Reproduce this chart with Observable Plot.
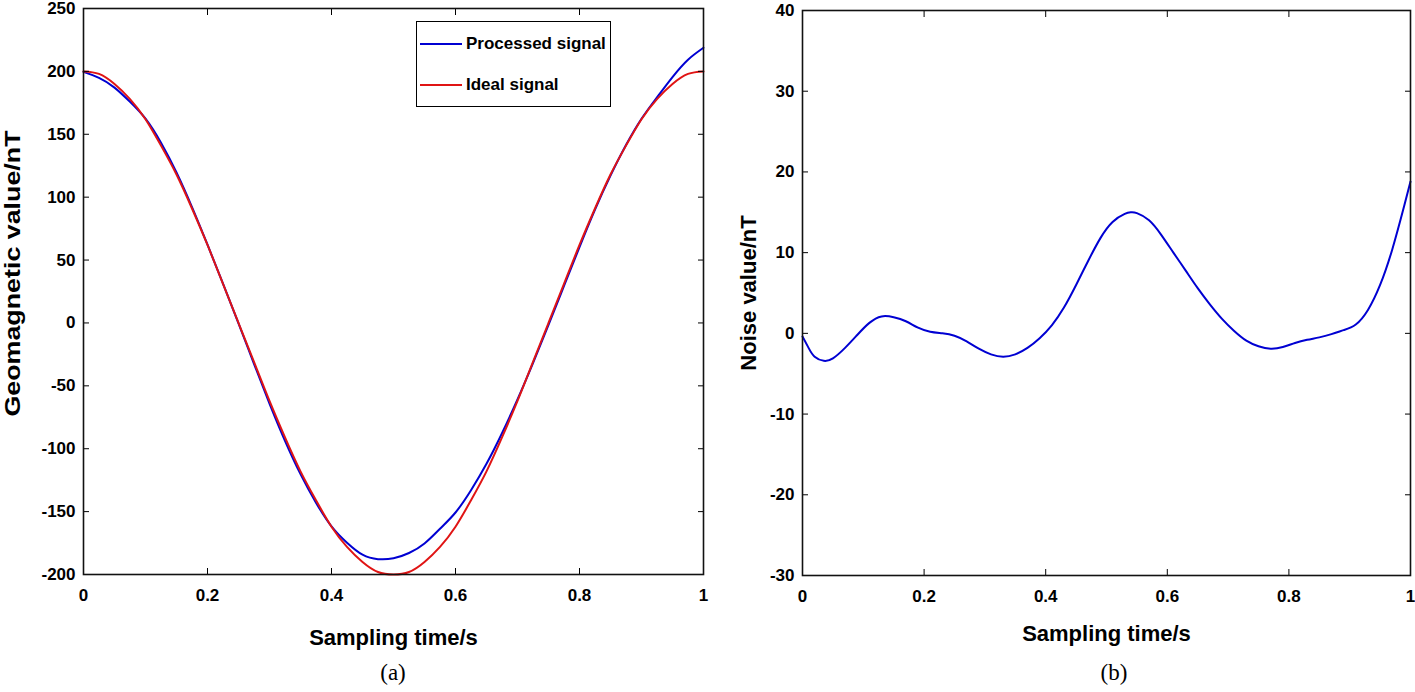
<!DOCTYPE html>
<html>
<head>
<meta charset="utf-8">
<script src="https://cdn.jsdelivr.net/npm/d3@7"></script>
<script src="https://cdn.jsdelivr.net/npm/@observablehq/plot@0.6"></script>
<style>
  body { margin: 0; background: #fff; }
  #wrap { position: relative; width: 1415px; height: 692px; overflow: hidden; font-family: "Liberation Sans", Arial, sans-serif; }
  .panel { position: absolute; top: 0; }
  .panel svg text { font-weight: bold !important; fill: #000; }
  .cap { position: absolute; top: 660px; font-family: "Liberation Serif", "Times New Roman", serif; font-size: 23px; transform: translateX(-50%); color: #000; }
  .legend { position: absolute; left: 416px; top: 21px; width: 195px; height: 86px; border: 1.4px solid #000; background: #fff; box-sizing: border-box; }
  .legend .row { position: absolute; left: 3px; display: flex; align-items: center; font-weight: bold; font-size: 17px; color: #000; }
  .legend .sw { width: 42px; height: 2px; margin-right: 4px; }
</style>
</head>
<body>
<div id="wrap">
  <div id="left" class="panel" style="left:0px"></div>
  <div id="right" class="panel" style="left:720px"></div>
  <div class="legend" id="legend"></div>
  <div class="cap" style="left:393px">(a)</div>
  <div class="cap" style="left:1114px">(b)</div>
</div>
<script>
// ---- data ----
const time = [0, 0.025, 0.05, 0.075, 0.1, 0.125, 0.15, 0.175, 0.2, 0.225, 0.25, 0.275, 0.3, 0.325, 0.35, 0.375, 0.4, 0.425, 0.45, 0.475, 0.5, 0.525, 0.55, 0.575, 0.6, 0.625, 0.65, 0.675, 0.7, 0.725, 0.75, 0.775, 0.8, 0.825, 0.85, 0.875, 0.9, 0.925, 0.95, 0.975, 1];
const idealSignal = [200, 198, 190, 178, 162, 141, 118, 91, 62, 31, 0, -31, -62, -91, -118, -141, -162, -178, -190, -198, -200, -198, -190, -178, -162, -141, -118, -91, -62, -31, 0, 31, 62, 91, 118, 141, 162, 178, 190, 198, 200];
const processedSignal = [199.6, 194.8, 187.1, 175.8, 162.4, 143.3, 119.6, 92.1, 62.2, 31.3, -0.3, -32.5, -64.1, -93.7, -120.2, -142.9, -161.7, -174.7, -184.2, -187.8, -187.1, -182.9, -175.3, -163.6, -150.7, -133.0, -112.0, -87.7, -60.8, -31.9, -1.6, 29.4, 60.3, 90.1, 117.1, 141.4, 162.3, 179.4, 195.5, 209.3, 218.8];
const noiseTime = [0, 0.01, 0.02, 0.035, 0.05, 0.07, 0.09, 0.11, 0.13, 0.15, 0.17, 0.19, 0.21, 0.23, 0.25, 0.27, 0.29, 0.31, 0.33, 0.35, 0.37, 0.39, 0.41, 0.43, 0.45, 0.47, 0.49, 0.51, 0.53, 0.54, 0.55, 0.57, 0.59, 0.61, 0.63, 0.65, 0.67, 0.69, 0.71, 0.73, 0.75, 0.77, 0.79, 0.81, 0.83, 0.85, 0.87, 0.89, 0.91, 0.93, 0.95, 0.97, 0.99, 1];
const noiseValue = [-0.4, -1.8, -2.9, -3.4, -3.1, -1.8, -0.2, 1.3, 2.1, 2.0, 1.5, 0.7, 0.2, 0.0, -0.3, -1.0, -1.9, -2.6, -2.9, -2.6, -1.8, -0.6, 1.0, 3.2, 6.0, 9.0, 11.8, 13.8, 14.8, 15.0, 14.9, 14.0, 12.2, 10.0, 7.8, 5.6, 3.6, 1.8, 0.3, -0.9, -1.6, -1.9, -1.7, -1.2, -0.8, -0.5, -0.1, 0.4, 1.1, 2.9, 6.0, 10.4, 15.9, 18.8];

const xTicks = [0, 0.2, 0.4, 0.6, 0.8, 1];
const xTickLabels = ["0", "0.2", "0.4", "0.6", "0.8", "1"];
const yTicksA = [-200, -150, -100, -50, 0, 50, 100, 150, 200, 250];
const yTicksB = [-30, -20, -10, 0, 10, 20, 30, 40];
const seriesNames = ["Processed signal", "Ideal signal"];
const seriesColors = ["#0000d2", "#e01414"];
const xLabel = "Sampling time/s";
const yLabelA = "Geomagnetic value/nT";
const yLabelB = "Noise value/nT";

const font = '"Liberation Sans", Arial, sans-serif';
const fmtX = d => xTickLabels[xTicks.indexOf(d)] ?? String(d);
const fmtY = d => String(d);

const seriesA = [
  ...time.map((t, i) => ({t, v: processedSignal[i], s: seriesNames[0]})),
  ...time.map((t, i) => ({t, v: idealSignal[i], s: seriesNames[1]}))
];
const noise = noiseTime.map((t, i) => ({t, v: noiseValue[i]}));

function frameMarks(yTicks, yLabel, xLabelDy, yLabelDx, yLabelDy) {
  return [
    Plot.axisX({anchor: "bottom", ticks: xTicks, tickFormat: fmtX, tickSize: -6, tickPadding: 20, label: null, fontSize: 17, fontWeight: "bold"}),
    Plot.axisX({anchor: "top", ticks: xTicks, tickFormat: () => "", tickSize: -6, label: null}),
    Plot.axisY({anchor: "left", ticks: yTicks, tickFormat: fmtY, tickSize: -6, tickPadding: 14, label: null, fontSize: 17, fontWeight: "bold"}),
    Plot.axisY({anchor: "right", ticks: yTicks, tickFormat: () => "", tickSize: -6, label: null}),
    Plot.frame({stroke: "#111", strokeWidth: 1.6}),
    Plot.text([xLabel], {text: d => d, frameAnchor: "bottom", dy: xLabelDy, fontSize: 22, fontWeight: "bold", fill: "#000"}),
    Plot.text([yLabel], {text: d => d, frameAnchor: "left", textAnchor: "middle", dx: yLabelDx, dy: yLabelDy, rotate: -90, fontSize: 22, fontWeight: "bold", fill: "#000"})
  ];
}

const left = Plot.plot({
  width: 720, height: 655,
  marginLeft: 83, marginRight: 17, marginTop: 8, marginBottom: 81,
  style: {fontFamily: font, fontWeight: "bold", color: "#000", background: "transparent", overflow: "visible"},
  x: {domain: [0, 1]},
  y: {domain: [-200, 250]},
  color: {domain: seriesNames, range: seriesColors},
  marks: [
    Plot.line(seriesA.filter(d => d.s === seriesNames[0]), {x: "t", y: "v", stroke: "s", strokeWidth: 2, curve: "natural"}),
    Plot.line(seriesA.filter(d => d.s === seriesNames[1]), {x: "t", y: "v", stroke: "s", strokeWidth: 2, curve: "natural"}),
    ...frameMarks(yTicksA, yLabelA, 70, -71, -18)
  ]
});
document.getElementById("left").appendChild(left);
// the reference's left axis title is drawn stretched along its length
d3.select(left).selectAll("text").each(function () {
  if (this.textContent === yLabelA) {
    const t = this.getAttribute("transform") || "";
    this.setAttribute("transform", t + " scale(1.22,1)");
  }
});

const right = Plot.plot({
  width: 695, height: 655,
  marginLeft: 82, marginRight: 5, marginTop: 10, marginBottom: 80,
  style: {fontFamily: font, fontWeight: "bold", color: "#000", background: "transparent", overflow: "visible"},
  x: {domain: [0, 1]},
  y: {domain: [-30, 40]},
  marks: [
    Plot.line(noise, {x: "t", y: "v", stroke: seriesColors[0], strokeWidth: 2, curve: "natural"}),
    ...frameMarks(yTicksB, yLabelB, 65, -54, 0)
  ]
});
document.getElementById("right").appendChild(right);

// legend (HTML, inside left panel)
const lg = document.getElementById("legend");
seriesNames.forEach((name, i) => {
  const row = document.createElement("div");
  row.className = "row";
  row.style.top = (i === 0 ? 12 : 53) + "px";
  const sw = document.createElement("div");
  sw.className = "sw";
  sw.style.background = seriesColors[i];
  const tx = document.createElement("span");
  tx.textContent = name;
  row.appendChild(sw); row.appendChild(tx);
  lg.appendChild(row);
});
</script>
</body>
</html>
